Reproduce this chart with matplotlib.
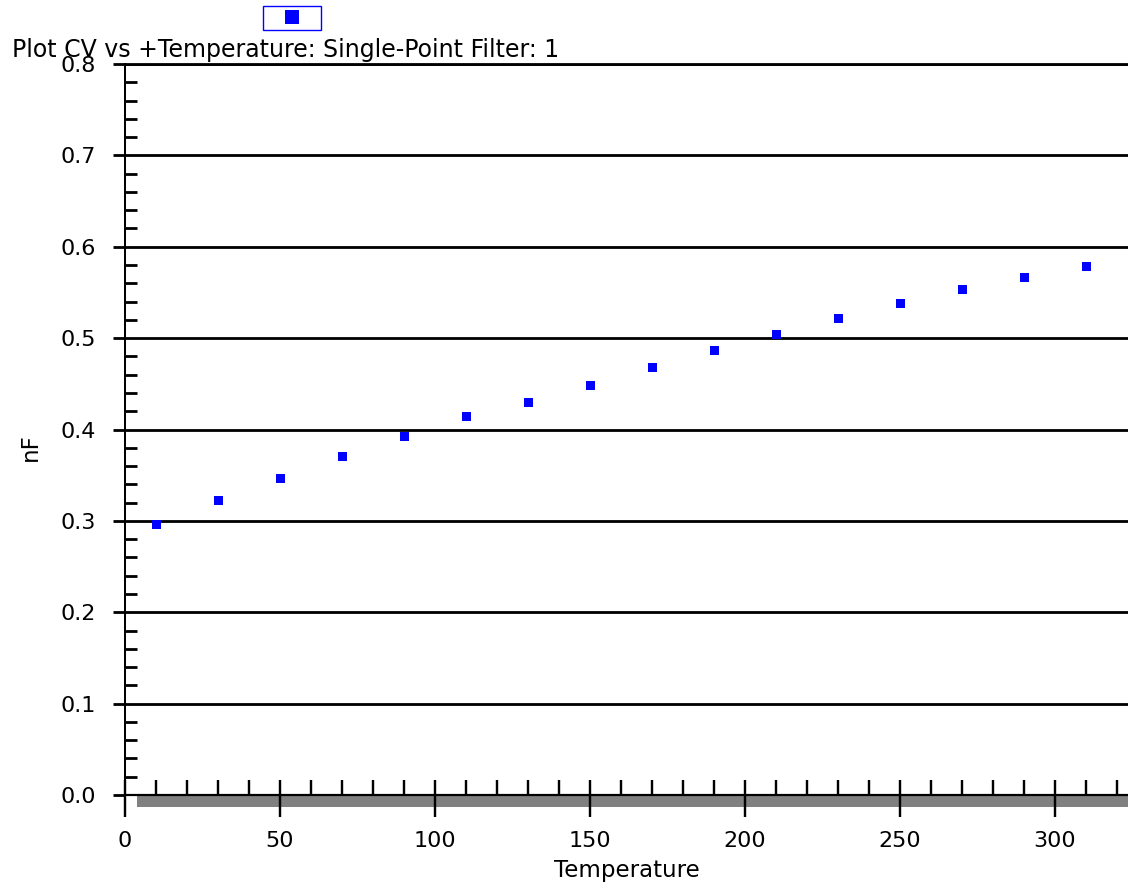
import matplotlib
matplotlib.use("Agg")
import matplotlib.pyplot as plt
from matplotlib.ticker import MultipleLocator, FormatStrFormatter
from matplotlib.patches import Rectangle

# Measured capacitance vs. temperature
temperature = [10, 30, 50, 70, 90, 110, 130, 150, 170, 190, 210, 230, 250, 270, 290, 310]
capacitance_nf = [0.2966, 0.3228, 0.3473, 0.3713, 0.3932, 0.4144, 0.4297, 0.4491,
                  0.4681, 0.4867, 0.5049, 0.5220, 0.5381, 0.5534, 0.5666, 0.5789]

title_text = "Plot CV vs +Temperature: Single-Point Filter: 1"
x_label = "Temperature"
y_label = "nF"

W, H = 1128, 883
PX = 0.72  # points per pixel at 100 dpi
FS_TICK = 16
FS_LABEL = 16.5
FS_TITLE = 17

plt.rcParams['font.family'] = ['DejaVu Sans']

fig = plt.figure(figsize=(W / 100, H / 100), dpi=100)
ax = fig.add_axes([125 / W, (H - 795) / H, (W - 125) / W, (795 - 64) / H])

line, = ax.plot(temperature, capacitance_nf, ls='none', marker='s', ms=9 * PX, mew=0,
                color='#0000ff', zorder=5, clip_on=False)

ax.set_xlim(0, (W - 125) / 3.1)
ax.set_ylim(0, 0.8)

# x axis: long major ticks every 50, short inward ticks every 10
ax.xaxis.set_major_locator(MultipleLocator(50))
ax.xaxis.set_minor_locator(MultipleLocator(10))
ax.xaxis.remove_overlapping_locs = False
ax.xaxis.set_major_formatter(FormatStrFormatter('%d'))
ax.tick_params(axis='x', which='major', direction='out', length=22 * PX, width=2.4 * PX,
               pad=10, labelsize=FS_TICK, color='black')
ax.tick_params(axis='x', which='minor', direction='in', length=15 * PX, width=2.4 * PX,
               color='black')

# y axis: outward major ticks with grid, inward minor ticks
ax.yaxis.set_major_locator(MultipleLocator(0.1))
ax.yaxis.set_minor_locator(MultipleLocator(0.02))
ax.yaxis.set_major_formatter(FormatStrFormatter('%.1f'))
ax.tick_params(axis='y', which='major', direction='out', length=12 * PX, width=2.8 * PX,
               pad=12, labelsize=FS_TICK, color='black')
ax.tick_params(axis='y', which='minor', direction='in', length=12 * PX, width=2.8 * PX,
               color='black')
ax.yaxis.grid(True, which='major', color='black', lw=2.8 * PX)
ax.set_axisbelow(False)

ax.spines['right'].set_visible(False)
ax.spines['left'].set_linewidth(2 * PX)
ax.spines['bottom'].set_linewidth(2.2 * PX)
ax.spines['top'].set_linewidth(2.8 * PX)

# gray strip under the x axis
fig.add_artist(Rectangle((137 / W, (H - 807) / H), 1 - 137 / W, 12 / H,
                         transform=fig.transFigure, facecolor='#808080',
                         edgecolor='none', zorder=-1))

ax.set_xlabel(x_label, fontsize=FS_LABEL)
ax.xaxis.set_label_coords(0.5, (795 - 859) / 731)
ax.set_ylabel(y_label, fontsize=FS_LABEL)
ax.yaxis.set_label_coords((42 - 125) / 1003, (795 - 447) / 731)

fig.text(12 / W, 1 - 57 / H, title_text, fontsize=FS_TITLE, ha='left', va='baseline')

leg = ax.legend([line], [''], loc='center', bbox_to_anchor=(292 / W, 1 - 18 / H),
                bbox_transform=fig.transFigure, frameon=True, fancybox=False,
                edgecolor='#0000ff', framealpha=1, markerscale=14 / 9,
                handlelength=3.4, handletextpad=0, borderpad=0.38, borderaxespad=0,
                fontsize=10)
leg.get_frame().set_linewidth(1.0)

fig.savefig('out.png', dpi=100)
